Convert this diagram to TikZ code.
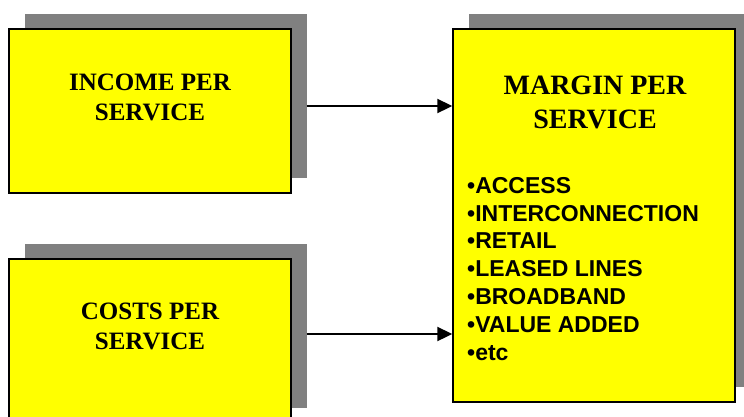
\documentclass[tikz,border=0pt]{standalone}
\usepackage{fontspec}
\usepackage{tikz}
\usetikzlibrary{positioning, shadows, arrows.meta}
\usepackage{xcolor}

\newfontfamily\titlefont{Liberation Serif}
\newfontfamily\listfont{Liberation Sans}
\definecolor{boxyellow}{RGB}{255,255,0}
\definecolor{shadowgray}{RGB}{128,128,128}

\begin{document}
\begin{tikzpicture}[x=1pt, y=1pt,
  box/.style={rectangle, draw, line width=1.4pt, fill=boxyellow, minimum width=282pt, minimum height=164pt, inner sep=0pt,
    general shadow={fill=shadowgray, shadow xshift=16pt, shadow yshift=15pt}},
  title/.style={align=center, inner sep=0pt, font=\titlefont\bfseries\fontsize{25}{30}\selectfont},
  line/.style={draw, line width=2pt, -{Triangle[length=15pt, width=14pt]}}
]
\useasboundingbox (0,0) rectangle (744,-416);
\clip (0,0) rectangle (744,-416);

% Boxes
\node[box] (income) at (150,-111) {};
\node[box] (costs) at (150,-341) {};
\node[box, minimum height=373pt] (margin) at (594,-215.5) {};

% Titles
\node[title] (incometext) at (150,-97.5) {INCOME PER\\SERVICE};
\node[title] (coststext) at (150,-326) {COSTS PER\\SERVICE};
\node[title, font=\titlefont\bfseries\fontsize{28}{34}\selectfont] (margintext) at (595,-102.5) {MARGIN PER\\SERVICE};

% Service list
\node[anchor=north west, align=left, inner sep=0pt, font=\listfont\bfseries\fontsize{23}{27.8}\selectfont] (services) at (467,-177)
  {•ACCESS\\•INTERCONNECTION\\•RETAIL\\•LEASED LINES\\•BROADBAND\\•VALUE ADDED\\•etc};

% Connections
\coordinate (incomeout) at ([xshift=15pt, yshift=5pt]income.east);
\coordinate (costsout) at ([xshift=15pt, yshift=7pt]costs.east);
\draw[line] (incomeout) -- (incomeout -| margin.west);
\draw[line] (costsout) -- (costsout -| margin.west);

\end{tikzpicture}
\end{document}
